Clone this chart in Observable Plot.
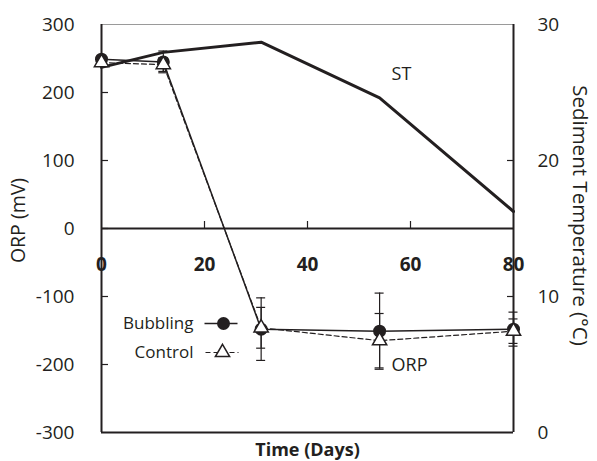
<!DOCTYPE html>
<html><head><meta charset="utf-8">
<script src="https://cdn.jsdelivr.net/npm/d3@7"></script>
<script src="https://cdn.jsdelivr.net/npm/@observablehq/plot@0.6"></script>
<style>body{margin:0;background:#fff} svg{display:block}</style>
</head><body><div id="chart"></div>
<script>
// ---- data ----
const days = [0, 12, 31, 54, 80];
const stTemp = [26.85, 27.95, 28.7, 24.6, 16.25];
const bubblingORP = [249, 245, -148, -151, -148];
const bubblingErr = [5, 16, 46, 56, 25];
const controlORP = [244, 241, -146, -165, -151];
const controlErr = [4, 10, 30, 40, 18];
const orpTicks = [-300, -200, -100, 0, 100, 200, 300];
const dayTicks = [0, 20, 40, 60, 80];
const tempTicks = [0, 10, 20, 30];
const seriesNames = ["Bubbling", "Control"];

// temperature axis (0..30 °C) shares the ORP scale (-300..300 mV)
const tempToORP = t => t * 20 - 300;
const axisCrossing = 0;

const st = days.map((d, i) => ({day: d, v: tempToORP(stTemp[i])}));
const bub = days.map((d, i) => ({day: d, v: bubblingORP[i], e: bubblingErr[i]}));
const ctl = days.map((d, i) => ({day: d, v: controlORP[i], e: controlErr[i]}));
const caps = [...bub, ...ctl].flatMap(d => [{day: d.day, v: d.v + d.e}, {day: d.day, v: d.v - d.e}]);

const font = "'Open Sans', sans-serif";
const ink = "#231f20";
const hline = {draw(ctx) { ctx.moveTo(-16.5, 0); ctx.lineTo(16.5, 0); }};

const chart = Plot.plot({
  width: 597, height: 461,
  marginLeft: 101, marginRight: 84, marginTop: 24, marginBottom: 29,
  x: {domain: [0, 80], axis: null},
  y: {domain: [-300, 300], axis: null},
  style: {fontFamily: font, background: "#fff", color: ink},
  marks: [
    // frame
    Plot.ruleY([300], {stroke: "#9a9a9a", strokeWidth: 1}),
    Plot.ruleY([-300, axisCrossing], {stroke: ink, strokeWidth: 2}),
    Plot.ruleX([0, 80], {stroke: ink, strokeWidth: 2}),
    // ticks
    Plot.ruleY(orpTicks.slice(1, -1), {stroke: ink, strokeWidth: 1.2, insetRight: 405}),
    Plot.ruleY(tempTicks.slice(1, -1).map(tempToORP), {stroke: ink, strokeWidth: 1.2, insetLeft: 406}),
    Plot.ruleX(dayTicks.slice(1, -1), {y1: axisCrossing, y2: axisCrossing, insetBottom: 7, stroke: ink, strokeWidth: 1.2}),
    // tick labels
    Plot.text(orpTicks, {y: d => d, text: d => String(d), frameAnchor: "left", dx: -27, textAnchor: "end", lineAnchor: "middle", fontSize: 19, fill: ink}),
    Plot.text(tempTicks, {y: d => tempToORP(d), text: d => String(d), frameAnchor: "right", dx: 24, textAnchor: "start", lineAnchor: "middle", fontSize: 19, fill: ink}),
    Plot.text(dayTicks, {x: d => d, y: () => axisCrossing, text: d => String(d), dy: 36, fontSize: 19, fontWeight: "bold", fill: ink}),
    // axis titles
    Plot.text(["ORP (mV)"], {frameAnchor: "left", dx: -83, dy: -8, rotate: -90, textAnchor: "middle", lineAnchor: "middle", fontSize: 19.5, fill: ink}),
    Plot.text(["Sediment Temperature (°C)"], {frameAnchor: "right", dx: 66, dy: -13, rotate: 90, textAnchor: "middle", lineAnchor: "middle", fontSize: 20.5, fill: ink}),
    Plot.text(["Time (Days)"], {frameAnchor: "bottom", dy: 18, textAnchor: "middle", lineAnchor: "middle", fontSize: 18, fontWeight: "bold", fill: ink}),
    // sediment temperature
    Plot.line(st, {x: "day", y: "v", stroke: ink, strokeWidth: 3}),
    Plot.text([st[3]], {x: "day", y: "v", text: () => "ST", dx: 12, dy: -24, textAnchor: "start", fontSize: 18, fill: ink}),
    // ORP series
    Plot.line(bub, {x: "day", y: "v", stroke: ink, strokeWidth: 1.5}),
    Plot.line(ctl, {x: "day", y: "v", stroke: ink, strokeWidth: 1.2, strokeDasharray: "5,3"}),
    Plot.ruleX([...bub, ...ctl], {x: "day", y1: d => d.v - d.e, y2: d => d.v + d.e, stroke: ink, strokeWidth: 1.2}),
    Plot.ruleY(caps, {y: "v", x1: "day", x2: "day", insetLeft: -4.5, insetRight: -4.5, stroke: ink, strokeWidth: 1.2}),
    Plot.dot(bub, {x: "day", y: "v", r: 6.5, fill: ink}),
    Plot.dot(ctl, {x: "day", y: "v", symbol: "triangle", r: 5.3, fill: "white", stroke: ink, strokeWidth: 1.5}),
    Plot.text([ctl[3]], {x: "day", y: "v", text: () => "ORP", dx: 12, dy: 25, textAnchor: "start", fontSize: 18, fill: ink}),
    // legend
    Plot.text([seriesNames[0]], {frameAnchor: "top-left", dx: 92, dy: 299, textAnchor: "end", lineAnchor: "middle", fontSize: 17, fill: ink}),
    Plot.text([seriesNames[1]], {frameAnchor: "top-left", dx: 92, dy: 328, textAnchor: "end", lineAnchor: "middle", fontSize: 17, fill: ink}),
    Plot.dot([seriesNames[0]], {frameAnchor: "top-left", dx: 119.5, dy: 299, symbol: hline, stroke: ink, strokeWidth: 1.5}),
    Plot.dot([seriesNames[0]], {frameAnchor: "top-left", dx: 122, dy: 299, r: 6.5, fill: ink}),
    Plot.dot([seriesNames[1]], {frameAnchor: "top-left", dx: 120.5, dy: 328, symbol: hline, stroke: ink, strokeWidth: 1.2, strokeDasharray: "5,3"}),
    Plot.dot([seriesNames[1]], {frameAnchor: "top-left", dx: 121, dy: 328, symbol: "triangle", r: 5.3, fill: "white", stroke: ink, strokeWidth: 1.5})
  ]
});
document.getElementById("chart").append(chart);
</script>
</body></html>
